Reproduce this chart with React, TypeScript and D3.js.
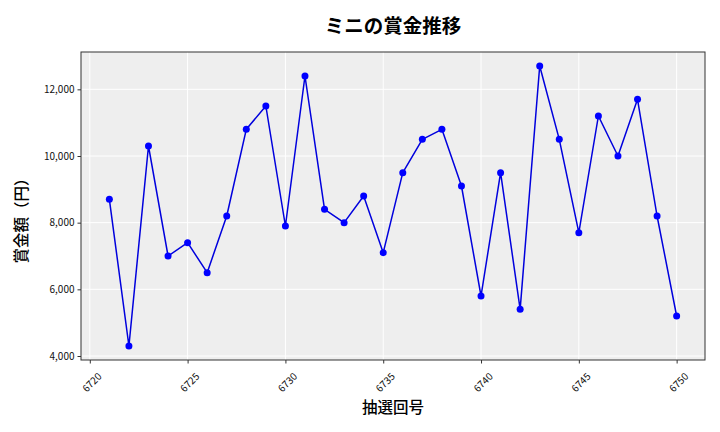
import { useEffect, useRef } from "react";
import * as d3 from "d3";

const draws = [
  6721, 6722, 6723, 6724, 6725, 6726, 6727, 6728, 6729, 6730, 6731, 6732, 6733,
  6734, 6735, 6736, 6737, 6738, 6739, 6740, 6741, 6742, 6743, 6744, 6745, 6746,
  6747, 6748, 6749, 6750,
];
const prizes = [
  8700, 4300, 10300, 7000, 7400, 6500, 8200, 10800, 11500, 7900, 12400, 8400,
  8000, 8800, 7100, 9500, 10500, 10800, 9100, 5800, 9500, 5400, 12700, 10500,
  7700, 11200, 10000, 11700, 8200, 5200,
];
const xTicks = [6720, 6725, 6730, 6735, 6740, 6745, 6750];
const yTicks = [4000, 6000, 8000, 10000, 12000];

const title = "ミニの賞金推移";
const xLabel = "抽選回号";
const yLabel = "賞金額（円）";

const FONT = "'Noto Sans CJK JP', 'Noto Sans', sans-serif";

export default function App() {
  const svgRef = useRef<SVGSVGElement | null>(null);

  useEffect(() => {
    if (!svgRef.current) return;
    const width = 720;
    const height = 432;
    const margin = { top: 52, right: 15, bottom: 72, left: 81 };
    const innerWidth = width - margin.left - margin.right;
    const innerHeight = height - margin.top - margin.bottom;

    const svg = d3.select(svgRef.current);
    svg.selectAll("*").remove();

    const rows = draws.map((d, i) => ({ x: d, y: prizes[i] }));

    // matplotlib-style 5% margins
    const [x0, x1] = d3.extent(draws) as [number, number];
    const [y0, y1] = d3.extent(prizes) as [number, number];
    const xPad = (x1 - x0) * 0.05;
    const yPad = (y1 - y0) * 0.05;

    const x = d3
      .scaleLinear()
      .domain([x0 - xPad, x1 + xPad])
      .range([0, innerWidth]);
    const y = d3
      .scaleLinear()
      .domain([y0 - yPad, y1 + yPad])
      .range([innerHeight, 0]);

    const root = svg
      .append("g")
      .attr("transform", `translate(${margin.left},${margin.top})`);

    root
      .append("rect")
      .attr("width", innerWidth)
      .attr("height", innerHeight)
      .attr("fill", "#eeeeee");

    // grid
    root
      .append("g")
      .selectAll("line")
      .data(xTicks)
      .join("line")
      .attr("x1", (d) => x(d))
      .attr("x2", (d) => x(d))
      .attr("y1", 0)
      .attr("y2", innerHeight)
      .attr("stroke", "#ffffff")
      .attr("stroke-width", 1);

    root
      .append("g")
      .selectAll("line")
      .data(yTicks)
      .join("line")
      .attr("x1", 0)
      .attr("x2", innerWidth)
      .attr("y1", (d) => y(d))
      .attr("y2", (d) => y(d))
      .attr("stroke", "#ffffff")
      .attr("stroke-width", 1);

    const line = d3
      .line<(typeof rows)[number]>()
      .x((d) => x(d.x))
      .y((d) => y(d.y));

    root
      .append("path")
      .datum(rows)
      .attr("fill", "none")
      .attr("stroke", "#0000dd")
      .attr("stroke-width", 1.5)
      .attr("stroke-linejoin", "round")
      .attr("d", line);

    root
      .append("g")
      .selectAll("circle")
      .data(rows)
      .join("circle")
      .attr("cx", (d) => x(d.x))
      .attr("cy", (d) => y(d.y))
      .attr("r", 3.5)
      .attr("fill", "#0000ff");

    // spines
    root
      .append("rect")
      .attr("width", innerWidth)
      .attr("height", innerHeight)
      .attr("fill", "none")
      .attr("stroke", "#333333")
      .attr("stroke-width", 1);

    const xAxis = root
      .append("g")
      .attr("transform", `translate(0,${innerHeight})`)
      .call(
        d3
          .axisBottom(x)
          .tickValues(xTicks)
          .tickSize(3.5)
          .tickPadding(3)
          .tickFormat((d) => String(d)),
      );
    xAxis.select(".domain").remove();
    xAxis.selectAll("line").attr("stroke", "#333333");
    xAxis
      .selectAll<SVGTextElement, number>("text")
      .attr("font-family", FONT)
      .attr("font-size", 10)
      .attr("fill", "#111111")
      .attr("text-anchor", "end")
      .attr("dy", "0.35em")
      .attr("transform", "translate(5,10) rotate(-45)");

    const yAxis = root.append("g").call(
      d3
        .axisLeft(y)
        .tickValues(yTicks)
        .tickSize(3.5)
        .tickPadding(3)
        .tickFormat((d) => d3.format(",")(d as number)),
    );
    yAxis.select(".domain").remove();
    yAxis.selectAll("line").attr("stroke", "#333333");
    yAxis
      .selectAll("text")
      .attr("font-family", FONT)
      .attr("font-size", 10)
      .attr("fill", "#111111");

    svg
      .append("text")
      .attr("x", margin.left + innerWidth / 2)
      .attr("y", 26)
      .attr("dy", "0.35em")
      .attr("text-anchor", "middle")
      .attr("font-family", FONT)
      .attr("font-weight", "bold")
      .attr("font-size", 19.5)
      .attr("fill", "#000000")
      .text(title);

    svg
      .append("text")
      .attr("x", margin.left + innerWidth / 2)
      .attr("y", 408)
      .attr("dy", "0.35em")
      .attr("text-anchor", "middle")
      .attr("font-family", FONT)
      .attr("font-weight", 500)
      .attr("font-size", 15.5)
      .attr("fill", "#000000")
      .text(xLabel);

    svg
      .append("text")
      .attr("transform", `translate(22,${margin.top + innerHeight / 2 + 11}) rotate(-90)`)
      .attr("dy", "0.35em")
      .attr("text-anchor", "middle")
      .attr("font-family", FONT)
      .attr("font-weight", 500)
      .attr("font-size", 15.5)
      .attr("fill", "#000000")
      .text(yLabel);
  }, []);

  return (
    <svg
      ref={svgRef}
      width={720}
      height={432}
      style={{ display: "block", position: "absolute", left: 0, top: 0, background: "#ffffff" }}
    />
  );
}
